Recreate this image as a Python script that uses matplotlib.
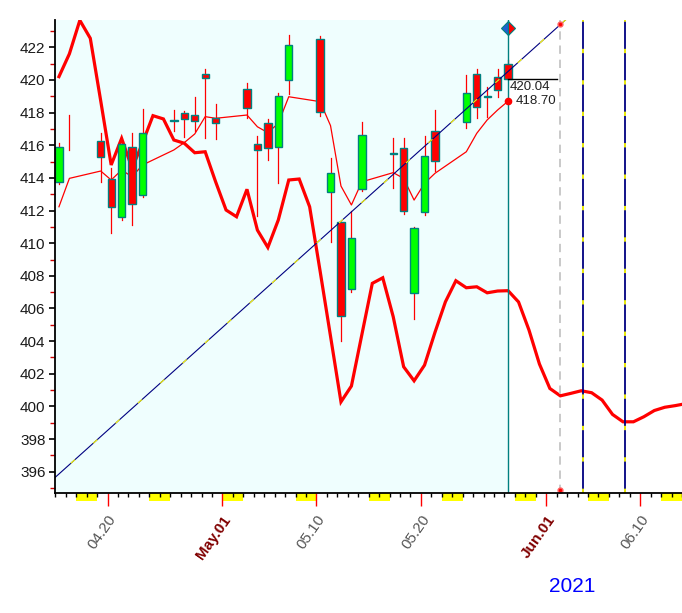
import numpy as np
import pandas as pd
import matplotlib
matplotlib.use('Agg')
import matplotlib.pyplot as plt
from matplotlib.patches import Rectangle
import matplotlib.transforms as mtransforms

plt.rcParams['font.family'] = ['Liberation Sans Narrow', 'Liberation Sans', 'DejaVu Sans']

# ---------------- data ----------------
base_date = pd.Timestamp('2021-04-15')

candle_dates = ['2021-04-15', '2021-04-16', '2021-04-19', '2021-04-20', '2021-04-21', '2021-04-22', '2021-04-23',
                '2021-04-26', '2021-04-27', '2021-04-28', '2021-04-29', '2021-04-30',
                '2021-05-03', '2021-05-04', '2021-05-05', '2021-05-06', '2021-05-07',
                '2021-05-10', '2021-05-11', '2021-05-12', '2021-05-13', '2021-05-14',
                '2021-05-17', '2021-05-18', '2021-05-19', '2021-05-20', '2021-05-21',
                '2021-05-24', '2021-05-25', '2021-05-26', '2021-05-27', '2021-05-28']
opens = [413.76, 416.80, 416.24, 413.91, 411.58, 415.87, 412.95,
         417.50, 417.96, 417.83, 420.35, 417.69,
         419.43, 416.06, 417.38, 415.89, 419.98,
         422.49, 413.15, 411.28, 407.17, 413.30,
         415.45, 415.81, 406.94, 411.89, 416.87,
         417.40, 420.35, 418.94, 420.16, 420.96]
highs = [416.12, 417.85, 416.73, 414.60, 416.20, 416.73, 418.22,
         418.16, 418.10, 418.94, 420.67, 418.53,
         419.79, 416.56, 417.61, 419.20, 422.75,
         422.69, 415.20, 411.30, 412.00, 417.44,
         416.42, 416.44, 411.00, 416.56, 418.16,
         420.30, 420.65, 419.55, 420.65, 421.22]
lows = [413.60, 415.71, 413.76, 410.60, 411.40, 411.11, 412.80,
        416.85, 416.50, 416.89, 416.42, 416.36,
        417.65, 411.66, 415.10, 413.67, 419.14,
        417.80, 410.10, 404.00, 407.00, 413.20,
        413.36, 411.77, 405.35, 411.72, 414.44,
        417.07, 417.65, 417.75, 418.97, 420.10]
closes = [415.87, 416.80, 415.26, 412.23, 416.07, 412.38, 416.73,
          417.56, 417.59, 417.46, 420.10, 417.34,
          418.26, 415.71, 415.81, 419.03, 422.12,
          418.04, 414.28, 405.54, 410.30, 416.63,
          415.51, 412.00, 410.91, 415.34, 415.01,
          419.18, 418.32, 419.03, 419.38, 420.04]
ma_values = [412.23, 413.97, 414.42, 413.87, 414.48, 414.07, 414.79,
             415.71, 416.16, 416.69, 417.75, 417.65,
             417.85, 417.13, 416.77, 417.34, 418.97,
             418.67, 417.20, 413.50, 412.34, 413.76,
             414.32, 413.97, 412.64, 413.67, 414.28,
             415.60, 416.73, 417.55, 418.16, 418.70]

# projection curve, one value per calendar day from 2021-04-15
proj_start = '2021-04-15'
proj_values = [420.20, 421.60, 423.65, 422.55, 418.71, 414.79, 416.42, 414.58, 416.14, 417.81,
               417.61, 416.32, 416.12, 415.54, 415.60, 413.76, 412.03, 411.62, 413.30, 410.80,
               409.74, 411.42, 413.87, 413.93, 412.23, 408.30, 404.30, 400.28, 401.25, 404.40,
               407.54, 407.88, 405.50, 402.43, 401.57, 402.53, 404.54, 406.41, 407.70, 407.27,
               407.33, 406.96, 407.07, 407.09, 406.40, 404.68, 402.60, 401.10, 400.65, 400.80,
               400.96, 400.84, 400.39, 399.51, 399.06, 399.06, 399.37, 399.75, 399.95, 400.05,
               400.17]

trend_dates = ['2021-04-14', '2021-06-03']
trend_values = [395.29, 423.96]

last_close = 420.04
last_ma = 418.70
turn_date = '2021-06-02'
turn_marks = [423.45, 394.90]
cycle_dates = ['2021-06-04 03:40', '2021-06-08 04:50']
diamond_value = 423.20

tick_dates = ['2021-04-20', '2021-05-01', '2021-05-10', '2021-05-20', '2021-06-01', '2021-06-10']
tick_labels = ['04.20', 'May.01', '05.10', '05.20', 'Jun.01', '06.10']
year_label = '2021'
y_major = list(range(396, 423, 2))
y_minor = list(range(395, 424, 2))


def day(d):
    return (pd.Timestamp(d) - base_date) / pd.Timedelta(days=1)


cx = np.array([day(d) for d in candle_dates])
px = day(proj_start) + np.arange(len(proj_values))
TICK_SHIFT = -0.35

# ---------------- figure ----------------
W, H = 682, 613
fig = plt.figure(figsize=(W / 100, H / 100), dpi=100)
fig.patch.set_facecolor('white')
x0, x1 = 55.3, 682.0
yb, yt = 493.3, 20.0
ax = fig.add_axes([x0 / W, (H - yb) / H, (x1 - x0) / W, (yb - yt) / H])
ax.set_facecolor('white')
ax.set_xlim(-0.066, 59.28)
ax.set_ylim(394.68, 423.67)

last_day = cx[-1]
ax.axvspan(-1, last_day, color='#effefe', zorder=0, lw=0)

# projection (thick) and moving average (thin)
ax.plot(px, proj_values, color='#ff0000', lw=2.3, zorder=2, solid_joinstyle='miter')
ax.plot(cx, ma_values, color='#ff0000', lw=0.9, zorder=2)

# candles
bw = 0.7
for xi, o, h, l, c in zip(cx, opens, highs, lows, closes):
    ax.plot([xi, xi], [l, h], color='#ff0000', lw=0.9, zorder=3, clip_on=False)
    if o != c:
        col = '#00ff00' if c > o else '#ff0000'
        ax.add_patch(Rectangle((xi - bw / 2, min(o, c)), bw, abs(c - o), facecolor=col,
                               edgecolor='#008080', lw=1.0, zorder=4, clip_on=False))

# trend line (navy with yellow segments)
tx = [day(d) for d in trend_dates]
ax.plot(tx, trend_values, color='#000080', lw=0.8, zorder=5)
ax.plot(tx, trend_values, color='#ffff00', lw=0.8, zorder=5, dashes=(5, 22))

# vertical cycle lines
for d in cycle_dates:
    xv = day(d)
    ax.axvline(xv, color='#000080', lw=1.3, zorder=2)
    ax.axvline(xv, color='#ffff00', lw=1.3, zorder=2, dashes=(2.4, 15))

# gray dashed line + red marks
xt = day(turn_date)
ax.axvline(xt, color='#c0c0c0', lw=1.2, zorder=2, dashes=(5, 3.5))
ax.plot([xt, xt], turn_marks, ls='none', marker='o', ms=3.5, color='#ff0000',
        mec='#ff6060', zorder=6, clip_on=False)

# last bar markers
ax.axvline(last_day, color='#008080', lw=1.0, zorder=3)
ax.plot([last_day], [diamond_value], marker='D', ms=7, fillstyle='left',
        markerfacecolor='#1f5fd0', markerfacecoloralt='#ff0000', mec='#008080', mew=0.8,
        zorder=7, clip_on=False)
ax.plot([last_day, last_day + 4.7], [last_close, last_close], color='black', lw=1.0, zorder=6)
ax.plot([last_day], [last_ma], marker='o', ms=4.5, color='#ff0000', zorder=7)
ax.text(last_day + 0.13, last_close - 0.13, f'{last_close:.2f}', fontsize=9.5, color='#202020',
        va='top', ha='left', zorder=8)
ax.text(last_day + 0.7, last_ma, f'{last_ma:.2f}', fontsize=9.5, color='#202020',
        va='center', ha='left', zorder=8)

# spines
for s in ['top', 'right']:
    ax.spines[s].set_visible(False)
ax.spines['left'].set_color('black')
ax.spines['bottom'].set_color('black')
ax.spines['left'].set_linewidth(1.3)
ax.spines['bottom'].set_linewidth(1.3)
ax.spines['left'].set_zorder(9)
ax.spines['bottom'].set_zorder(9)

# y ticks
ax.set_yticks(y_major)
ax.set_yticklabels([str(v) for v in y_major], fontsize=11, color='#1a1a1a')
ax.set_yticks(y_minor, minor=True)
ax.tick_params(axis='y', which='major', direction='out', length=4, width=1.2, color='black', pad=3)
ax.tick_params(axis='y', which='minor', direction='out', length=3.5, width=1.0, color='#d00000')

# x ticks
major_x = [day(d) + TICK_SHIFT for d in tick_dates]
minor_x = [d + TICK_SHIFT for d in range(0, 61)]
ax.set_xticks(major_x)
ax.set_xticks(minor_x, minor=True)
ax.set_xticklabels(tick_labels)
ax.tick_params(axis='x', which='major', direction='out', length=9, width=1.0, color='#ff0000', pad=5)
ax.tick_params(axis='x', which='minor', direction='out', length=3, width=1.0, color='black')
for lab in ax.get_xticklabels():
    lab.set_rotation(55)
    lab.set_ha('right')
    lab.set_va('top')
    lab.set_rotation_mode('anchor')
    lab.set_fontsize(11)
    if lab.get_text().endswith('.01'):
        lab.set_color('#800000')
        lab.set_fontweight('bold')
    else:
        lab.set_color('#555555')

# weekend blocks under the axis
trans = mtransforms.blended_transform_factory(ax.transData, ax.transAxes)
hblk = 8.0 / (yb - yt)
for d in range(0, 61):
    date = base_date + pd.Timedelta(days=d)
    if date.weekday() == 5:
        left = max(d + TICK_SHIFT, ax.get_xlim()[0])
        right = min(d + 2 + TICK_SHIFT, ax.get_xlim()[1])
        ax.add_patch(Rectangle((left, -hblk), right - left, hblk, transform=trans,
                               facecolor='#ffff00', edgecolor='none', clip_on=False, zorder=1))

fig.text(572 / W, 1 - 586 / H, year_label, color='#0000ff', fontsize=15, ha='center', va='center')

fig.savefig('out.png', dpi=100, facecolor='white')
